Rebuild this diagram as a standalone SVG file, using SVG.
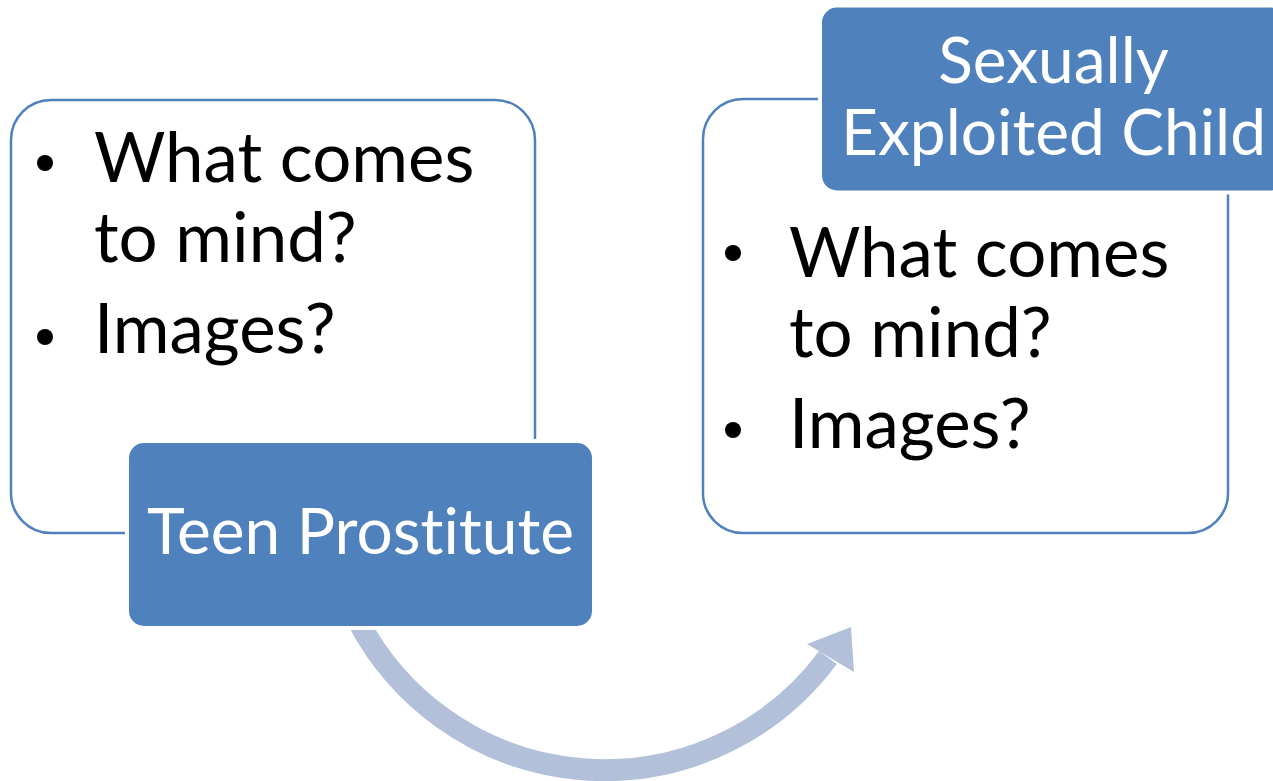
<svg xmlns="http://www.w3.org/2000/svg" width="1273" height="781" viewBox="0 0 1273 781">
<style>
.frame{fill:#FFFFFF;stroke:#4F81BD;stroke-width:2.5}
.gap{fill:#FFFFFF}
.label{fill:#4F81BD}
text{font-variant-ligatures:none;font-feature-settings:"liga" 0,"dlig" 0}
.body{font-family:Lato,"Open Sans",sans-serif;font-size:69px;fill:#000000}
.head{font-family:Lato,"Open Sans",sans-serif;font-size:64px;fill:#FFFFFF;text-anchor:middle}
.dot{fill:#000000}
.arc{fill:none;stroke:#B2C1D9;stroke-width:22}
.head-arrow{fill:#B2C1D9}
</style>
<rect width="1273" height="781" fill="#FFFFFF"/>
<g id="connectors">
<path class="arc" d="M 357.7 620 A 278 278 0 0 0 828 657.5"/>
<polygon class="head-arrow" points="807,644 851,627 854,672"/>
</g>
<g id="node-left">
<rect class="frame" x="11" y="100" width="524" height="433" rx="40" ry="40"/>
<circle class="dot" cx="45" cy="163" r="8"/>
<circle class="dot" cx="45" cy="337" r="8"/>
<text class="body" x="94" y="182">What comes</text>
<text class="body" x="94" y="262">to mind?</text>
<text class="body" x="94" y="353">Images?</text>
</g>
<g id="node-teen">
<rect class="gap" x="125" y="439" width="471" height="191" rx="19" ry="19"/>
<rect class="label" x="129" y="443" width="463" height="183" rx="15" ry="15"/>
<text class="head" x="360.5" y="554">Teen Prostitute</text>
</g>
<g id="node-right">
<rect class="frame" x="703" y="99" width="525" height="434" rx="40" ry="40"/>
<circle class="dot" cx="733" cy="253" r="8"/>
<circle class="dot" cx="733" cy="430" r="8"/>
<text class="body" x="789" y="277">What comes</text>
<text class="body" x="789" y="357">to mind?</text>
<text class="body" x="789" y="448">Images?</text>
</g>
<g id="node-sexually">
<rect class="gap" x="818" y="3.5" width="471" height="191" rx="19" ry="19"/>
<rect class="label" x="822" y="7.5" width="463" height="183" rx="15" ry="15"/>
<text class="head" x="1053.5" y="83">Sexually</text>
<text class="head" x="1053.5" y="155">Exploited Child</text>
</g>
</svg>
